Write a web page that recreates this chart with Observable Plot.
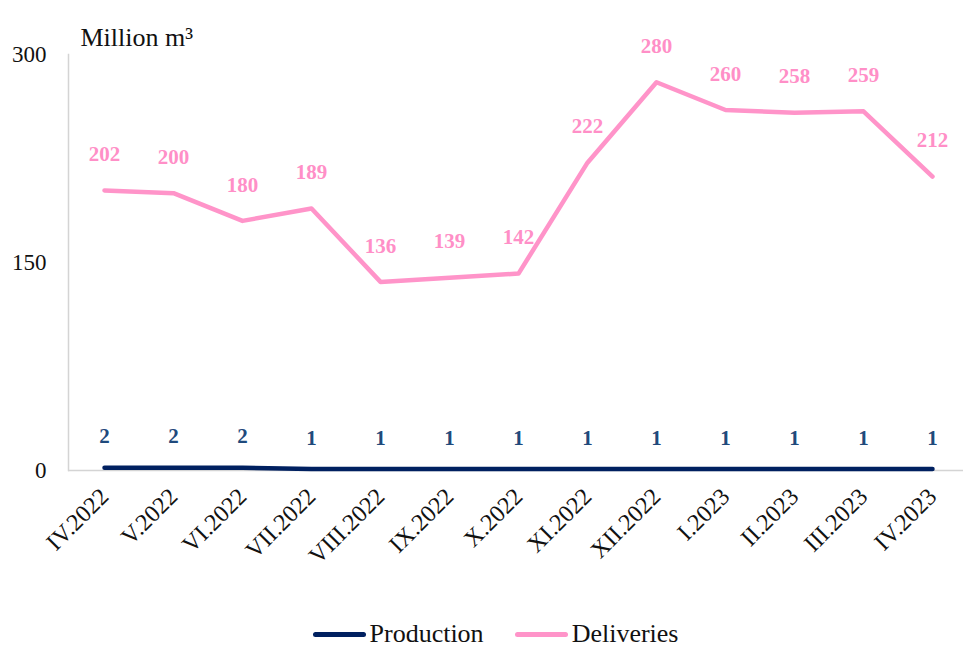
<!DOCTYPE html>
<html>
<head>
<meta charset="utf-8">
<script src="https://cdn.jsdelivr.net/npm/d3@7"></script>
<script src="https://cdn.jsdelivr.net/npm/@observablehq/plot@0.6"></script>
<style>
  html, body { margin: 0; padding: 0; background: #fff; }
  #chart { width: 965px; height: 648px; position: relative; overflow: hidden; font-family: "Liberation Serif", "Times New Roman", serif; }
  #chart svg { display: block; }
  .legend { position: absolute; left: 0; top: 621px; width: 965px; box-sizing: border-box; padding-left: 26px; display: flex; justify-content: center; align-items: center; gap: 31px; height: 26px; line-height: 26px; font-size: 26px; color: #111; }
  .legend .item { display: flex; align-items: center; gap: 4px; }
  .legend .sw { display: inline-block; width: 53px; height: 5px; border-radius: 3px; }
</style>
</head>
<body>
<div id="chart"></div>
<script>
const months = ["IV.2022","V.2022","VI.2022","VII.2022","VIII.2022","IX.2022","X.2022","XI.2022","XII.2022","I.2023","II.2023","III.2023","IV.2023"];
const production = [2,2,2,1,1,1,1,1,1,1,1,1,1];
const deliveries = [202,200,180,189,136,139,142,222,280,260,258,259,212];
const yTicks = [0,150,300];
const seriesNames = ["Production","Deliveries"];
const seriesColors = ["#002060","#ff94c9"];
const labelColors = ["#1f4a7c","#ff8fc7"];

const data = months.map((m, i) => ({month: m, production: production[i], deliveries: deliveries[i]}));

const serif = "'Liberation Serif', 'Times New Roman', serif";

const plot = Plot.plot({
  width: 965,
  height: 606,
  marginTop: 54,
  marginLeft: 68,
  marginRight: 2,
  marginBottom: 136,
  style: {fontFamily: serif, color: "#111", background: "#fff"},
  x: {type: "point", domain: months, padding: 0.446, align: 0.53},
  y: {domain: [0, 300]},
  marks: [
    Plot.frame({anchor: "left", stroke: "#d4d4d4", strokeWidth: 1.5}),
    Plot.ruleY([0], {stroke: "#d4d4d4", strokeWidth: 1.5}),
    Plot.axisY({ticks: yTicks, tickSize: 0, tickPadding: 22, fontSize: 23, fontFamily: serif, label: null}),
    Plot.axisX({tickRotate: -45, tickSize: 0, tickPadding: 22, fontSize: 24, fontFamily: serif, label: null}),
    Plot.text(["Million m³"], {frameAnchor: "top-left", dx: 12, dy: -27, textAnchor: "start", fontSize: 26, fontFamily: serif, fill: "#111"}),
    Plot.line(data, {x: "month", y: "production", stroke: seriesColors[0], strokeWidth: 4.5, strokeLinecap: "round"}),
    Plot.line(data, {x: "month", y: "deliveries", stroke: seriesColors[1], strokeWidth: 4.5}),
    Plot.text(data, {x: "month", y: "production", text: d => String(d.production), dy: -31, fontSize: 21, fontWeight: "bold", fontFamily: serif, fill: labelColors[0]}),
    Plot.text(data, {x: "month", y: "deliveries", text: d => String(d.deliveries), dy: -36, fontSize: 21, fontWeight: "bold", fontFamily: serif, fill: labelColors[1]})
  ]
});

const root = document.getElementById("chart");
root.appendChild(plot);
const legend = document.createElement("div");
legend.className = "legend";
seriesNames.forEach((name, i) => {
  const item = document.createElement("span");
  item.className = "item";
  const sw = document.createElement("span");
  sw.className = "sw";
  sw.style.background = seriesColors[i];
  const t = document.createElement("span");
  t.textContent = name;
  item.appendChild(sw);
  item.appendChild(t);
  legend.appendChild(item);
});
root.appendChild(legend);
</script>
</body>
</html>
